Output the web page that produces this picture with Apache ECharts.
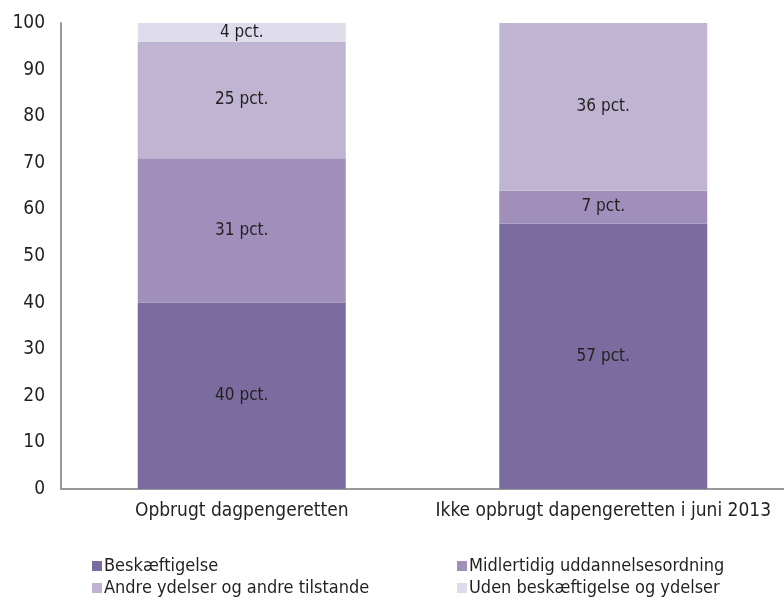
<!DOCTYPE html>
<html>
<head>
<meta charset="utf-8">
<script src="https://cdn.jsdelivr.net/npm/echarts@6/dist/echarts.min.js"></script>
<style>
  html, body { margin: 0; padding: 0; background: #fff; }
  #main { width: 784px; height: 600px; }
</style>
</head>
<body>
<div id="main"></div>
<script>
var categories = ['Opbrugt dagpengeretten', 'Ikke opbrugt dapengeretten i juni 2013'];
var seriesNames = ['Beskæftigelse', 'Midlertidig uddannelsesordning', 'Andre ydelser og andre tilstande', 'Uden beskæftigelse og ydelser'];
var beskaeftigelse = [40, 57];
var midlertidig = [31, 7];
var andreYdelser = [25, 36];
var udenYdelser = [4, 0];
var yTicks = [0, 10, 20, 30, 40, 50, 60, 70, 80, 90, 100];

var colors = ['#7a6c9e', '#a08fbb', '#bfb5d2', '#dedbea'];
var values = [beskaeftigelse, midlertidig, andreYdelser, udenYdelser];
var fontFam = "'Liberation Sans Narrow', 'DejaVu Sans Condensed', sans-serif";

var myChart = echarts.init(document.getElementById('main'));

var series = [];
for (var i = 0; i < seriesNames.length; i++) {
    series.push({
        name: seriesNames[i],
        type: 'bar',
        stack: 'total',
        barWidth: 208,
        data: values[i],
        itemStyle: { color: colors[i] },
        label: {
            show: true,
            position: 'inside',
            color: '#231f20',
            fontSize: 17,
            fontFamily: fontFam,
            formatter: function (p) {
                return p.value ? p.value + ' pct.' : '';
            }
        }
    });
}

// legend in two columns
var legendPos = [[92, 557], [457, 557], [92, 579], [457, 579]];
var legends = [];
for (var j = 0; j < seriesNames.length; j++) {
    legends.push({
        data: [seriesNames[j]],
        left: legendPos[j][0],
        top: legendPos[j][1],
        icon: 'rect',
        itemWidth: 10,
        itemHeight: 10,
        itemGap: 0,
        padding: 0,
        textStyle: { fontSize: 18, color: '#231f20', fontFamily: fontFam, padding: [0, 0, 0, -3] },
        selectedMode: false
    });
}

var option = {
    animation: false,
    grid: { left: 61, top: 23, width: 728, height: 466, containLabel: false },
    legend: legends,
    xAxis: {
        type: 'category',
        data: categories,
        axisLine: { lineStyle: { color: '#9a9a9a', width: 2 } },
        axisTick: { show: false },
        axisLabel: { interval: 0, fontSize: 19, color: '#231f20', fontFamily: fontFam, margin: 13 }
    },
    yAxis: {
        type: 'value',
        min: yTicks[0],
        max: yTicks[yTicks.length - 1],
        interval: 10,
        axisLine: { show: true, lineStyle: { color: '#9a9a9a', width: 2 } },
        axisTick: { show: false },
        splitLine: { show: false },
        axisLabel: { fontSize: 19, color: '#231f20', fontFamily: fontFam, margin: 16 }
    },
    series: series
};

myChart.setOption(option);
</script>
</body>
</html>
